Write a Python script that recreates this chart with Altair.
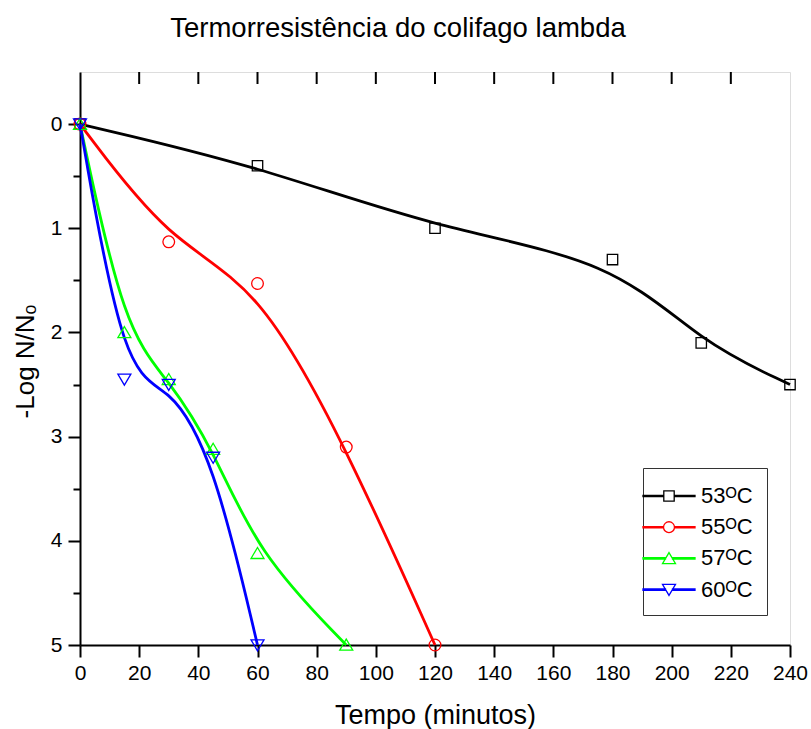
import altair as alt
import pandas as pd

# ---- data ----
series_labels = ["53ᴼC", "55ᴼC", "57ᴼC", "60ᴼC"]
t53 = [0, 60, 120, 180, 210, 240]
v53 = [0, 0.4, 1.0, 1.3, 2.1, 2.5]
t55 = [0, 30, 60, 90, 120]
v55 = [0, 1.13, 1.53, 3.1, 5.0]
t57 = [0, 15, 30, 45, 60, 90]
v57 = [0, 2.0, 2.45, 3.12, 4.12, 5.0]
t60 = [0, 15, 30, 45, 60]
v60 = [0, 2.45, 2.5, 3.2, 5.0]

colors = ["#000000", "#FF0000", "#00FF00", "#0000FF"]
x_tick_values = list(range(0, 250, 10))
y_tick_values = [0, 0.5, 1, 1.5, 2, 2.5, 3, 3.5, 4, 4.5, 5]
top_major_ticks = [20, 40, 60, 80, 100, 120, 140, 160, 180, 200, 220]

title_text = "Termorresistência do colifago lambda"
x_title = "Tempo (minutos)"
y_title = "-Log N/Nₒ"

rows = []
for lab, ts, vs in zip(series_labels, [t53, t55, t57, t60], [v53, v55, v57, v60]):
    for t, v in zip(ts, vs):
        rows.append({"s": lab, "t": t, "v": v})
df = pd.DataFrame(rows)
ticks_df = pd.DataFrame({"t": top_major_ticks})

FONT = "Liberation Sans"
W, H = 710, 573

# marker shapes (plot) and line+marker shapes (legend)
plot_shapes = [
    "M-0.8,-0.8H0.8V0.8H-0.8Z",
    "M0.9,0A0.9,0.9,0,1,1,-0.9,0A0.9,0.9,0,1,1,0.9,0Z",
    "M0,-0.9L1,0.8L-1,0.8Z",
    "M0,0.9L1,-0.8L-1,-0.8Z",
]
legend_shapes = [
    "M-2,-0.05H-0.4V0.05H-2ZM-0.4,-0.4H0.4V0.4H-0.4ZM0.4,-0.05H2V0.05H0.4Z",
    "M-2,-0.05H-0.42V0.05H-2ZM0.42,0A0.42,0.42,0,1,1,-0.42,0A0.42,0.42,0,1,1,0.42,0ZM0.42,-0.05H2V0.05H0.42Z",
    "M-2,-0.05H-0.27V0.05H-2ZM0,-0.45L0.5,0.4L-0.5,0.4ZM0.27,-0.05H2V0.05H0.27Z",
    "M-2,-0.05H-0.27V0.05H-2ZM0,0.45L0.5,-0.4L-0.5,-0.4ZM0.27,-0.05H2V0.05H0.27Z",
]

x_enc = alt.X(
    "t:Q",
    scale=alt.Scale(domain=[0, 240], nice=False, zero=False),
    axis=alt.Axis(
        values=x_tick_values,
        labelExpr="datum.value % 20 === 0 ? '' + datum.value : ''",
        tickSize={"condition": {"test": "datum.value % 20 === 0", "value": 12}, "value": 7},
        tickWidth=2, tickColor="black", domainColor="black", domainWidth=2,
        labelFontSize=21, labelColor="black", labelFont=FONT, labelPadding=5,
        labelFlush=False, labelOverlap=False, grid=False,
        titleFontSize=27, titleFontWeight="normal", titleFont=FONT, titleColor="black",
        titleY=78, titleBaseline="alphabetic",
    ),
    title=x_title,
)
y_enc = alt.Y(
    "v:Q",
    scale=alt.Scale(domain=[-0.5, 5], reverse=True, nice=False, zero=False),
    axis=alt.Axis(
        values=y_tick_values,
        labelExpr="datum.value % 1 === 0 ? '' + datum.value : ''",
        tickSize={"condition": {"test": "datum.value % 1 === 0", "value": 12}, "value": 7},
        tickWidth=2, tickColor="black", domainColor="black", domainWidth=2,
        labelFontSize=21, labelColor="black", labelFont=FONT, labelPadding=6,
        labelFlush=False, labelOverlap=False, grid=False,
        titleFontSize=26, titleFontWeight="normal", titleFont=FONT, titleColor="black",
        titleAngle=270, titleX=-47, titleY=289, titleAlign="center",
        titleBaseline="alphabetic",
    ),
    title=y_title,
)

cscale = alt.Scale(domain=series_labels, range=colors)

base = alt.Chart(df)

lines = base.mark_line(interpolate="basis", strokeWidth=2.8).encode(
    x=x_enc, y=y_enc,
    color=alt.Color("s:N", scale=cscale, legend=None),
)

points = base.mark_point(filled=False, size=169, strokeWidth=1.3, opacity=1).encode(
    x=x_enc, y=y_enc,
    color=alt.Color("s:N", scale=cscale, legend=None),
    shape=alt.Shape("s:N", scale=alt.Scale(domain=series_labels, range=plot_shapes), legend=None),
)

legend_kw = dict(
    title=None, orient="none", legendX=563, legendY=396, direction="vertical",
    symbolSize=676, symbolStrokeWidth=1.3, symbolOpacity=1,
    labelFontSize=22, labelFont=FONT, labelColor="black",
    strokeColor="#333333", padding=14, rowPadding=6.2,
    symbolOffset=-2, labelOffset=18,
)

legend_layer = base.mark_point(filled=False, opacity=0).encode(
    x=x_enc, y=y_enc,
    color=alt.Color("s:N", scale=cscale, legend=alt.Legend(**legend_kw)),
    shape=alt.Shape("s:N", scale=alt.Scale(domain=series_labels, range=legend_shapes),
                    legend=alt.Legend(**legend_kw)),
)

top_ticks = alt.Chart(ticks_df).mark_rule(color="black", strokeWidth=2).encode(
    x=alt.X("t:Q"), y=alt.value(0), y2=alt.value(12),
)

chart = alt.layer(lines, points, legend_layer, top_ticks).resolve_scale(
    color="independent", shape="independent"
).properties(
    width=W, height=H,
    title=alt.Title(title_text, fontSize=27.5, font=FONT, fontWeight="normal",
                    color="black", dx=-37, offset=7, baseline="alphabetic"),
    autosize=alt.AutoSizeParams(type="none"),
    padding={"left": 80, "top": 72, "right": 21, "bottom": 84},
).configure_view(stroke="black", strokeWidth=2).configure(font=FONT, background="white")

chart.save("out.html", embed_options={"renderer": "svg", "actions": False})
